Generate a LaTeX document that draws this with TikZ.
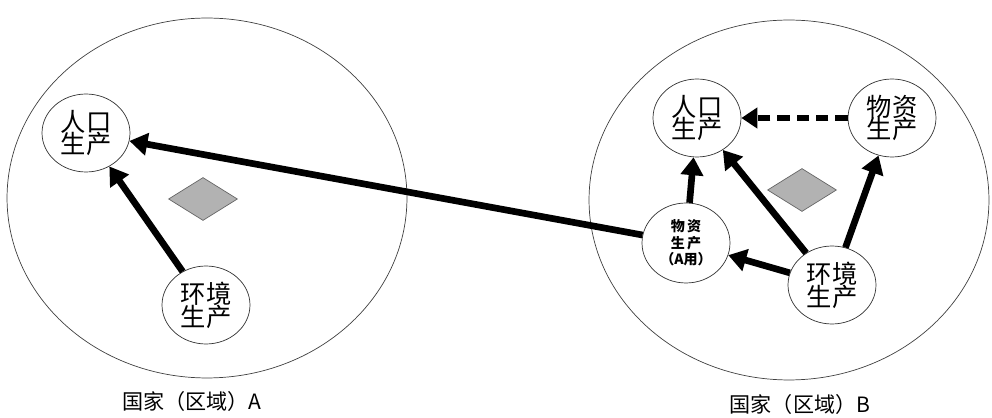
\documentclass[tikz,border=0pt]{standalone}
\usepackage{fontspec}
\setmainfont{Noto Sans CJK SC}
\usetikzlibrary{positioning,arrows.meta,shapes.geometric}
\tikzset{
  flowarrow/.style={-{Triangle[length=3.6mm, width=4.4mm]}, line width=3.8pt},
  dasharrow/.style={-{Triangle[length=3.2mm, width=4mm]}, line width=3.2pt, dash pattern=on 7pt off 4pt},
  region/.style={draw=black!75, thin, ellipse, minimum width=8cm, minimum height=7.2cm},
  prodnode/.style={draw=black!80, thin, ellipse, fill=white, minimum width=1.76cm, minimum height=1.56cm, align=center, font=\Large, inner sep=1pt},
  marker/.style={draw=black!60, fill=black!30, diamond, minimum width=1.38cm, minimum height=0.86cm, inner sep=0pt},
  caption/.style={font=\large}
}
\begin{document}
\begin{tikzpicture}[x=0.02cm, y=-0.02cm]
  \useasboundingbox (0,0) rectangle (992,418);
  % countries
  \node[region] (countryA) at (207,198) {};
  \node[region] (countryB) at (789,200) {};
  \node[marker] (markA) at (203,199) {};
  \node[marker] (markB) at (802,190) {};
  % country A
  \node[prodnode] (popA) at (86,133) {人口\\[-5pt]生产};
  \node[prodnode] (envA) at (206,305) {环境\\[-5pt]生产};
  % country B
  \node[prodnode] (popB) at (697,118) {人口\\[-5pt]生产};
  \node[prodnode] (matB) at (892,118) {物资\\[-5pt]生产};
  \node[prodnode, font=\footnotesize\bfseries, minimum height=1.6cm] (matAB) at (686,243) {物\,资\\生\,产\\（A用）};
  \node[prodnode] (envB) at (832,285) {环境\\[-5pt]生产};
  % connectors
  \draw[flowarrow] (envA) -- (popA);
  \draw[flowarrow] (matAB) -- (popA);
  \draw[flowarrow] (matAB) -- (popB);
  \draw[flowarrow] (envB) -- (popB);
  \draw[flowarrow] (envB) -- (matB);
  \draw[flowarrow] (envB) -- (matAB);
  \draw[dasharrow] (matB) -- (popB);
  % captions
  \node[caption] (capA) at (192,401) {国家（区域）A};
  \node[caption] (capB) at (800,404) {国家（区域）B};
\end{tikzpicture}
\end{document}
